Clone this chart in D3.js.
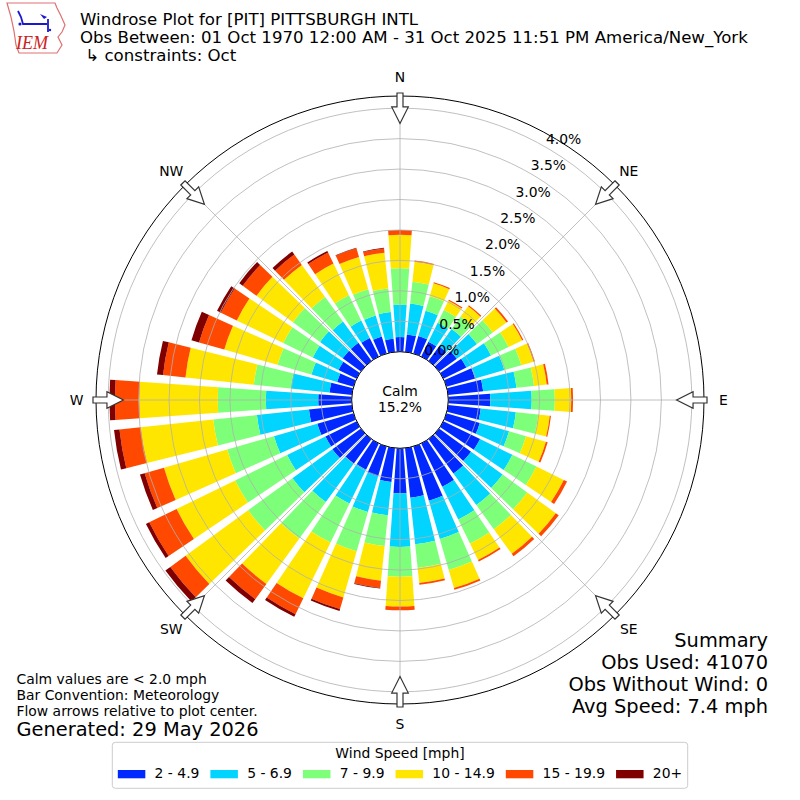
<!DOCTYPE html>
<html><head><meta charset="utf-8">
<script src="https://cdn.jsdelivr.net/npm/d3@7"></script>
<style>
html,body{margin:0;padding:0;background:#fff;}
svg{display:block;font-family:"DejaVu Sans",sans-serif;}
</style></head><body>
<svg id="chart" width="800" height="800"></svg>
<script>
// ---------------- DATA ----------------
const directions = [0,10,20,30,40,50,60,70,80,90,100,110,120,130,140,150,160,170,
                    180,190,200,210,220,230,240,250,260,270,280,290,300,310,320,330,340,350];
const speedBins = ["2 - 4.9","5 - 6.9","7 - 9.9","10 - 14.9","15 - 19.9","20+"];
// percent of observations per direction, per speed bin
const s2to5   = [0.24,0.29,0.30,0.27,0.30,0.36,0.42,0.49,0.58,0.69,0.54,0.57,0.67,0.65,0.70,0.79,0.93,0.82,
                 0.74,0.56,0.51,0.48,0.50,0.58,0.57,0.62,0.71,0.55,0.37,0.28,0.33,0.37,0.37,0.34,0.29,0.22];
const s5to7   = [0.53,0.51,0.43,0.35,0.35,0.41,0.45,0.50,0.55,0.68,0.58,0.50,0.59,0.64,0.64,0.60,0.65,0.77,
                 0.88,0.55,0.61,0.62,0.78,0.81,0.70,0.74,0.86,0.86,0.64,0.44,0.47,0.46,0.43,0.32,0.36,0.44];
const s7to10  = [0.60,0.36,0.25,0.23,0.25,0.32,0.32,0.29,0.29,0.38,0.37,0.29,0.44,0.50,0.49,0.44,0.53,0.39,
                 0.49,0.51,0.67,0.71,0.74,0.90,0.95,0.80,0.72,0.79,0.61,0.58,0.54,0.55,0.50,0.46,0.45,0.39];
const s10to15 = [0.55,0.33,0.22,0.17,0.21,0.28,0.25,0.21,0.21,0.27,0.19,0.34,0.50,0.58,0.50,0.30,0.31,0.25,
                 0.49,0.57,0.79,1.02,0.92,1.27,1.07,1.08,1.20,1.29,1.13,0.91,0.85,0.74,0.65,0.58,0.55,0.59];
const s15to20 = [0.08,0.02,0.02,0.02,0.02,0.03,0.02,0.02,0.03,0.03,0.02,0.03,0.06,0.06,0.05,0.03,0.03,0.03,
                 0.06,0.12,0.20,0.29,0.31,0.31,0.50,0.33,0.35,0.40,0.37,0.43,0.29,0.28,0.21,0.20,0.15,0.07];
const s20plus = [0.00,0.00,0.00,0.00,0.00,0.00,0.00,0.00,0.00,0.00,0.00,0.00,0.00,0.00,0.00,0.00,0.00,0.00,
                 0.00,0.01,0.03,0.05,0.08,0.10,0.06,0.08,0.09,0.09,0.10,0.13,0.07,0.07,0.06,0.03,0.01,0.01];
const radialTicks = [0,0.5,1.0,1.5,2.0,2.5,3.0,3.5,4.0];
const compassNames = ["N","NE","E","SE","S","SW","W","NW"];
const compassDeg = [0,45,90,135,180,225,270,315];
const calmPct = 15.2;
const titleLines = ["Windrose Plot for [PIT] PITTSBURGH INTL",
  "Obs Between: 01 Oct 1970 12:00 AM - 31 Oct 2025 11:51 PM America/New_York",
  " \u21B3 constraints: Oct"];
const noteLines = ["Calm values are < 2.0 mph","Bar Convention: Meteorology","Flow arrows relative to plot center."];
const generatedText = "Generated: 29 May 2026";
const summaryLines = ["Summary","Obs Used: 41070","Obs Without Wind: 0","Avg Speed: 7.4 mph"];
const legendTitle = "Wind Speed [mph]";

// ---------------- STYLE ----------------
const palette = ["#0028ff","#00d4ff","#7dff7a","#ffe600","#ff4800","#800000"];
const FONT = "DejaVu Sans";

// ---------------- BUILD ----------------
const seriesArrays = [s2to5,s5to7,s7to10,s10to15,s15to20,s20plus];
const table = directions.map((d,i)=>{
  const row = {dir:d};
  speedBins.forEach((k,j)=>row[k]=seriesArrays[j][i]);
  return row;
});
const stacked = d3.stack().keys(speedBins)(table);

const svg = d3.select("#chart");
const cx = 400, cy = 400;
const r = d3.scaleLinear().domain([0,4.2]).range([48.3,304]);
const ang = d3.scaleLinear().domain([0,360]).range([0,2*Math.PI]);
const color = d3.scaleOrdinal().domain(speedBins).range(palette);
const binWidth = 10, opening = 0.8;

const g = svg.append("g").attr("transform",`translate(${cx},${cy})`);
const arc = d3.arc();

// bars
g.append("g").selectAll("g").data(stacked).join("g")
  .attr("fill",s=>color(s.key))
  .selectAll("path").data(s=>s).join("path")
  .attr("d",d=>arc({
    innerRadius:r(d[0]), outerRadius:r(d[1]),
    startAngle:ang(d.data.dir - binWidth*opening/2),
    endAngle:ang(d.data.dir + binWidth*opening/2)
  }));

// grid
const grid = g.append("g").attr("fill","none").attr("stroke","#b0b0b0").attr("stroke-width",0.8);
grid.selectAll("circle").data(radialTicks).join("circle").attr("r",d=>r(d));
grid.selectAll("line").data(compassDeg).join("line")
  .attr("x1",d=>r(0)*Math.sin(ang(d))).attr("y1",d=>-r(0)*Math.cos(ang(d)))
  .attr("x2",d=>r.range()[1]*Math.sin(ang(d))).attr("y2",d=>-r.range()[1]*Math.cos(ang(d)));
// outer frame
g.append("circle").attr("r",r.range()[1]).attr("fill","none").attr("stroke","#000").attr("stroke-width",1);

// calm circle
g.append("circle").attr("r",r(0)).attr("fill","#fff").attr("stroke","#000").attr("stroke-width",1);
g.append("text").attr("text-anchor","middle").attr("y",-4).attr("font-size",13.9).attr("font-family",FONT).text("Calm");
g.append("text").attr("text-anchor","middle").attr("y",12).attr("font-size",13.9).attr("font-family",FONT).text(calmPct.toFixed(1)+"%");

// radial tick labels
const labAng = ang(30);
g.append("g").selectAll("text").data(radialTicks).join("text")
  .attr("x",d=>r(d)*Math.sin(labAng))
  .attr("y",d=>-r(d)*Math.cos(labAng)-3.3)
  .attr("font-size",13.9).attr("font-family",FONT)
  .text(d=>d.toFixed(1)+"%");

// compass arrows (pointing to center)
const tip = r(3.75), head = r(4.02), tail = r(4.2)+3, hw = 8.3, sw = 3;
const arrowPath = `M${-sw},${-tail}L${sw},${-tail}L${sw},${-head}L${hw},${-head}L0,${-tip}L${-hw},${-head}L${-sw},${-head}Z`;
g.append("g").selectAll("path").data(compassDeg).join("path")
  .attr("d",arrowPath).attr("transform",d=>`rotate(${d})`)
  .attr("fill","#fff").attr("stroke","#333").attr("stroke-width",1.2);

// compass labels
const labR = 323.5;
g.append("g").selectAll("text").data(compassNames).join("text")
  .attr("x",(d,i)=>labR*Math.sin(ang(compassDeg[i])))
  .attr("y",(d,i)=>-labR*Math.cos(ang(compassDeg[i])))
  .attr("text-anchor","middle").attr("dominant-baseline","central")
  .attr("font-size",13.9).attr("font-family",FONT).text(d=>d);

// titles
svg.append("g").selectAll("text").data(titleLines).join("text")
  .attr("x",80).attr("y",(d,i)=>25+i*18).attr("font-size",16.6).attr("font-family",FONT)
  .attr("xml:space","preserve").style("white-space","pre").text(d=>d);

// notes
svg.append("g").selectAll("text").data(noteLines).join("text")
  .attr("x",16.5).attr("y",(d,i)=>684+i*16.2).attr("font-size",13.9).attr("font-family",FONT).text(d=>d);
svg.append("text").attr("x",16.5).attr("y",736).attr("font-size",19.4).attr("font-family",FONT).text(generatedText);

// summary
svg.append("g").selectAll("text").data(summaryLines).join("text")
  .attr("x",768).attr("y",(d,i)=>647+i*22).attr("text-anchor","end")
  .attr("font-size",19.4).attr("font-family",FONT).text(d=>d);

// legend
const lg = svg.append("g");
const box = lg.append("rect").attr("fill","#fff").attr("stroke","#cccccc").attr("stroke-width",1).attr("rx",3);
lg.append("text").attr("x",400).attr("y",757.7).attr("text-anchor","middle")
  .attr("font-size",13.9).attr("font-family",FONT).text(legendTitle);
const items = lg.append("g");
let xpos = 0;
const patchW = 27.5, patchH = 8.3, pad = 9.3, colSp = 11;
speedBins.forEach((k,i)=>{
  const it = items.append("g").attr("transform",`translate(${xpos},0)`);
  it.append("rect").attr("x",0).attr("y",770).attr("width",patchW).attr("height",patchH).attr("fill",color(k));
  const t = it.append("text").attr("x",patchW+pad).attr("y",778.3).attr("font-size",13.9).attr("font-family",FONT).text(k);
  xpos += patchW + pad + t.node().getComputedTextLength() + colSp;
});
const itemsW = xpos - colSp;
items.attr("transform",`translate(${400-itemsW/2},0)`);
const boxW = itemsW + 11;
box.attr("x",400-boxW/2).attr("y",742.3).attr("width",boxW).attr("height",46);

// IEM logo (simplified)
const logo = svg.append("g");
logo.append("path")
  .attr("d","M7,3 L55,3 L57,8 L61,16 L65,25 L62,32 L58,37 L62,45 L57,53 L19,53 L16,45 L14,31 L11,17 Z")
  .attr("fill","none").attr("stroke","#e07070").attr("stroke-width",1.2);
logo.append("path").attr("d","M18,11 L21,17 L23,24 L47,24 M48,19 L48,32")
  .attr("fill","none").attr("stroke","#1a1acc").attr("stroke-width",1.8);
logo.append("path").attr("d","M40,14 L47,17 L44,19 Z").attr("fill","#1a1acc");
logo.append("circle").attr("cx",20).attr("cy",24).attr("r",1.6).attr("fill","#1a1acc");
logo.append("circle").attr("cx",50).attr("cy",30).attr("r",1.2).attr("fill","#1a1acc");
logo.append("text").attr("x",16).attr("y",49).attr("font-family","Liberation Serif, serif")
  .attr("font-style","italic").attr("font-size",18).attr("fill","#cc2222").text("IEM");
</script>
</body></html>
